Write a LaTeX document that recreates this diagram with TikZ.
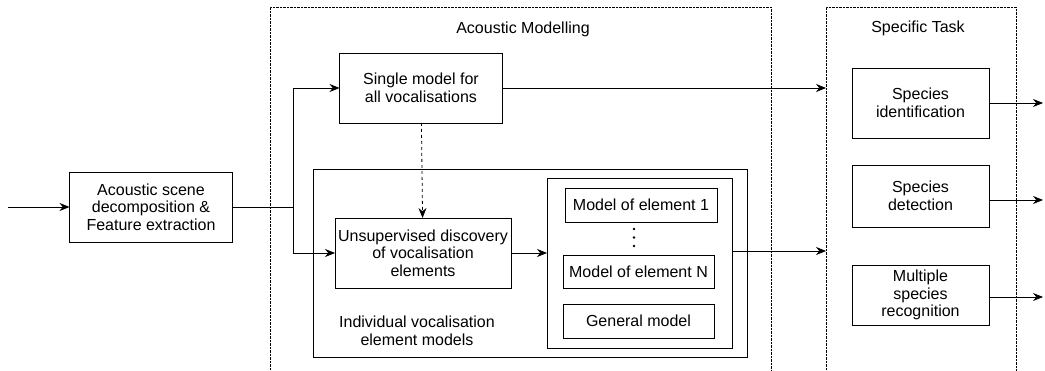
\documentclass[tikz,border=0pt]{standalone}
\usepackage{fontspec}
\setmainfont{Liberation Sans}
\usetikzlibrary{arrows.meta}

\begin{document}
\begin{tikzpicture}[x=1pt,y=-1pt,
    txt/.style = {font=\fontsize{16}{17.5}\selectfont,align=center},
    box/.style = {txt,rectangle,draw,line width=0.8pt,inner sep=0pt,outer sep=0mm},
    zone/.style = {densely dotted,thin},
    arr/.style = {-{Stealth[length=10pt,width=8pt]},line width=0.8pt}]
\useasboundingbox (0,0) rectangle (1045,371);
% regions
\draw[zone] (270,371) -- (270,7) -- (771,7) -- (771,371);
\draw[zone] (826,371) -- (826,7) -- (1016,7) -- (1016,371);
\node[txt] (modtitle) at (523,29) {Acoustic Modelling};
\node[txt] (tasktitle) at (918,28) {Specific Task};
% front end
\node[box,minimum width=163,minimum height=70] (feat) at (151,207) {Acoustic scene\\decomposition \&\\Feature extraction};
\coordinate (in) at (8,207);
\coordinate (split) at (293,207);
% acoustic modelling
\node[box,minimum width=163,minimum height=70] (single) at (421,88) {Single model for\\all vocalisations};
\node[box,minimum width=434,minimum height=188] (indiv) at (530,263) {};
\node[box,minimum width=176,minimum height=70] (unsup) at (423,253) {Unsupervised discovery\\of vocalisation\\elements};
\node[box,minimum width=185,minimum height=170] (elems) at (639.5,263) {};
\node[box,minimum width=152,minimum height=34] (el1) at (641,205) {Model of element 1};
\foreach \y in {229,237.5,246} \fill (634,\y) circle (1.3);
\node[box,minimum width=151,minimum height=33] (elN) at (638.5,271.5) {Model of element N};
\node[box,minimum width=151,minimum height=34] (gen) at (638.5,321) {General model};
\node[txt] (indivlbl) at (417,331) {Individual vocalisation\\element models};
% specific tasks
\node[box,minimum width=137,minimum height=70] (ident) at (920.5,103) {Species\\identification};
\node[box,minimum width=137,minimum height=62] (detect) at (920.5,196) {Species\\detection};
\node[box,minimum width=137,minimum height=60] (multi) at (920.5,295) {Multiple\\species\\recognition};
\coordinate (t1) at (826,88);
\coordinate (t2) at (826,251);
\coordinate (o1) at (1043,103);
\coordinate (o2) at (1043,200);
\coordinate (o3) at (1043,297);
% connectors
\draw[arr] (in) -- (feat);
\draw[line width=0.8pt] (feat) -- (split);
\draw[arr] (split) |- (single);
\draw[arr] (split) |- (unsup);
\draw[arr,dashed] (single) -- (unsup);
\draw[arr] (unsup) -- (unsup -| elems.west);
\draw[arr] (single) -- (t1);
\draw[arr] (elems.east |- t2) -- (t2);
\draw[arr] (ident.east |- o1) -- (o1);
\draw[arr] (detect.east |- o2) -- (o2);
\draw[arr] (multi.east |- o3) -- (o3);
\end{tikzpicture}
\end{document}
